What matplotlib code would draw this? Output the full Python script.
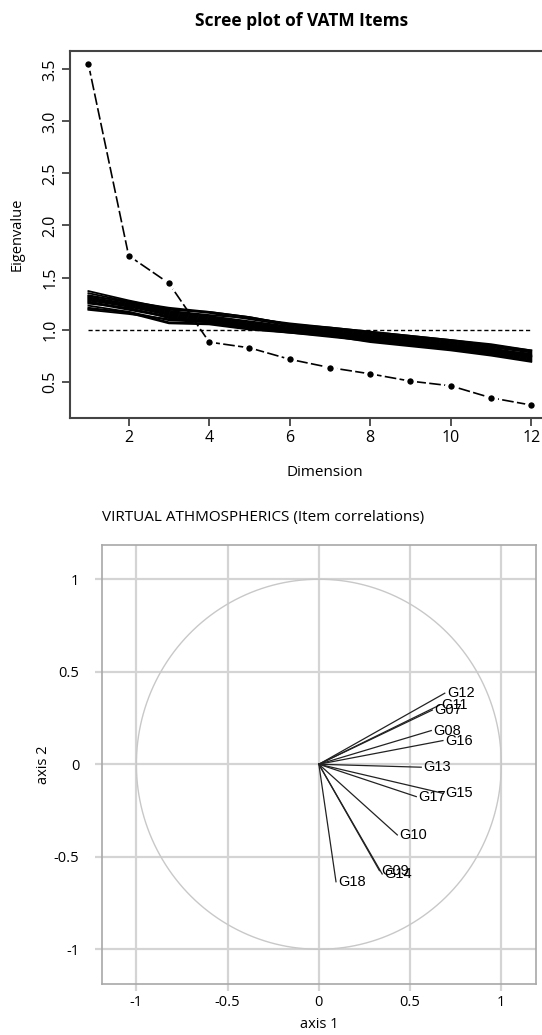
import numpy as np
import matplotlib
matplotlib.use("Agg")
import matplotlib.pyplot as plt

plt.rcParams['font.family'] = ['Open Sans', 'DejaVu Sans']

# scree plot data
dims = list(range(1, 13))
observed = [3.55, 1.71, 1.445, 0.88, 0.825, 0.715, 0.635, 0.575, 0.505, 0.46, 0.345, 0.275]
simulated = [
    [1.37, 1.28, 1.20, 1.16, 1.10, 1.04, 1.00, 0.96, 0.92, 0.88, 0.83, 0.78],
    [1.35, 1.27, 1.19, 1.17, 1.12, 1.05, 1.01, 0.97, 0.93, 0.89, 0.84, 0.79],
    [1.33, 1.26, 1.18, 1.14, 1.11, 1.06, 1.02, 0.98, 0.94, 0.90, 0.86, 0.80],
    [1.31, 1.25, 1.17, 1.13, 1.08, 1.03, 0.99, 0.95, 0.91, 0.87, 0.82, 0.76],
    [1.30, 1.24, 1.16, 1.12, 1.07, 1.02, 0.98, 0.94, 0.90, 0.86, 0.81, 0.75],
    [1.29, 1.23, 1.15, 1.11, 1.06, 1.01, 0.97, 0.93, 0.89, 0.85, 0.80, 0.74],
    [1.28, 1.22, 1.14, 1.10, 1.05, 1.00, 0.96, 0.92, 0.88, 0.84, 0.79, 0.73],
    [1.27, 1.20, 1.13, 1.09, 1.04, 0.99, 0.96, 0.91, 0.87, 0.83, 0.78, 0.75],
    [1.26, 1.19, 1.12, 1.08, 1.03, 0.99, 0.95, 0.90, 0.86, 0.82, 0.77, 0.71],
    [1.25, 1.21, 1.11, 1.07, 1.02, 0.98, 0.94, 0.90, 0.86, 0.82, 0.78, 0.72],
    [1.23, 1.17, 1.07, 1.06, 1.01, 0.97, 0.93, 0.89, 0.85, 0.81, 0.76, 0.70],
    [1.21, 1.16, 1.06, 1.05, 1.00, 0.97, 0.94, 0.88, 0.84, 0.80, 0.75, 0.69],
    [1.20, 1.17, 1.09, 1.07, 1.03, 0.99, 0.95, 0.91, 0.87, 0.83, 0.79, 0.74],
    [1.19, 1.15, 1.10, 1.08, 1.04, 1.00, 0.97, 0.93, 0.89, 0.85, 0.80, 0.77],
    [1.32, 1.27, 1.21, 1.17, 1.12, 1.05, 1.02, 0.98, 0.94, 0.90, 0.85, 0.80],
]

# correlation circle data
items = ['G12', 'G11', 'G07', 'G08', 'G16', 'G13', 'G15', 'G17', 'G10', 'G09', 'G14', 'G18']
axis1 = [0.69, 0.662, 0.622, 0.616, 0.68, 0.561, 0.68, 0.534, 0.43, 0.332, 0.347, 0.094]
axis2 = [0.384, 0.32, 0.293, 0.182, 0.128, -0.016, -0.157, -0.175, -0.382, -0.575, -0.593, -0.635]

W, H = 542, 1035
fig = plt.figure(figsize=(W / 100, H / 100), dpi=100)

def box(l, t, r, b):
    return [l / W, 1 - b / H, (r - l) / W, (b - t) / H]

# ---- scree plot ----
ax = fig.add_axes(box(70, 51, 549, 418.3))
for s in simulated:
    ax.plot(dims, s, color='black', lw=1.3, zorder=2)
ax.plot([1, 12], [1, 1], color='black', lw=1.0, ls=(0, (3, 2)), zorder=3)
ax.plot(dims, observed, color='black', lw=1.2, ls=(0, (7, 2)), marker='o',
        ms=7, mfc='black', mec='white', mew=2.4, zorder=4)
ax.set_xlim(0.543, 12.44)
ax.set_ylim(0.148, 3.676)
ax.set_xticks([2, 4, 6, 8, 10, 12])
ax.set_yticks([0.5, 1.0, 1.5, 2.0, 2.5, 3.0, 3.5])
ax.set_yticklabels(['0.5', '1.0', '1.5', '2.0', '2.5', '3.0', '3.5'], rotation=90, va='center')
ax.tick_params(direction='out', length=5.5, width=1.2, color='#333333',
               labelsize=11.5, pad=3)
ax.spines['right'].set_visible(False)
for side in ['left', 'bottom', 'top']:
    ax.spines[side].set_color('#444444')
    ax.spines[side].set_linewidth(1.5)

fig.text(302 / W, 1 - 21 / H, 'Scree plot of VATM Items', ha='center', va='center',
         fontsize=12.5, fontweight='bold')
fig.text(17 / W, 1 - 234 / H, 'Eigenvalue', ha='center', va='center', rotation=90, fontsize=10.5)
fig.text(325 / W, 1 - 472 / H, 'Dimension', ha='center', va='center', fontsize=11)

# ---- correlation circle ----
ax2 = fig.add_axes(box(101.7, 545, 536, 983.5))
ax2.set_xlim(-1.19, 1.19)
ax2.set_ylim(-1.185, 1.185)
ticks = [-1, -0.5, 0, 0.5, 1]
ax2.set_xticks(ticks)
ax2.set_yticks(ticks)
ax2.set_xticklabels(['-1', '-0.5', '0', '0.5', '1'])
ax2.set_yticklabels(['-1', '-0.5', '0', '0.5', '1'])
ax2.tick_params(direction='out', length=5, width=1.6, color='#d4d4d4', labelsize=10.5)
ax2.tick_params(axis='x', pad=3)
ax2.tick_params(axis='y', pad=11)
ax2.grid(True, color='#d4d4d4', lw=1.6)
ax2.set_axisbelow(True)
for sp in ax2.spines.values():
    sp.set_color('#a8a8a8')
    sp.set_linewidth(1.2)

t = np.linspace(0, 2 * np.pi, 400)
ax2.plot(np.cos(t), np.sin(t), color='#c8c8c8', lw=1.0, zorder=2)

for name, x, y in zip(items, axis1, axis2):
    ax2.plot([0, x], [0, y], color='#222222', lw=0.9, zorder=3)
    ax2.annotate(name, (x, y), xytext=(1.5, 0), textcoords='offset points',
                 ha='left', va='center', fontsize=10.5, family='Liberation Sans', zorder=4)

ax2.set_xlabel('axis 1', fontsize=10.5, labelpad=5)
ax2.set_ylabel('axis 2', fontsize=10.5, labelpad=2)

fig.text(102 / W, 1 - 518 / H, 'VIRTUAL ATHMOSPHERICS (Item correlations)', ha='left', va='center',
         fontsize=11)

fig.savefig('out.png', dpi=100)
